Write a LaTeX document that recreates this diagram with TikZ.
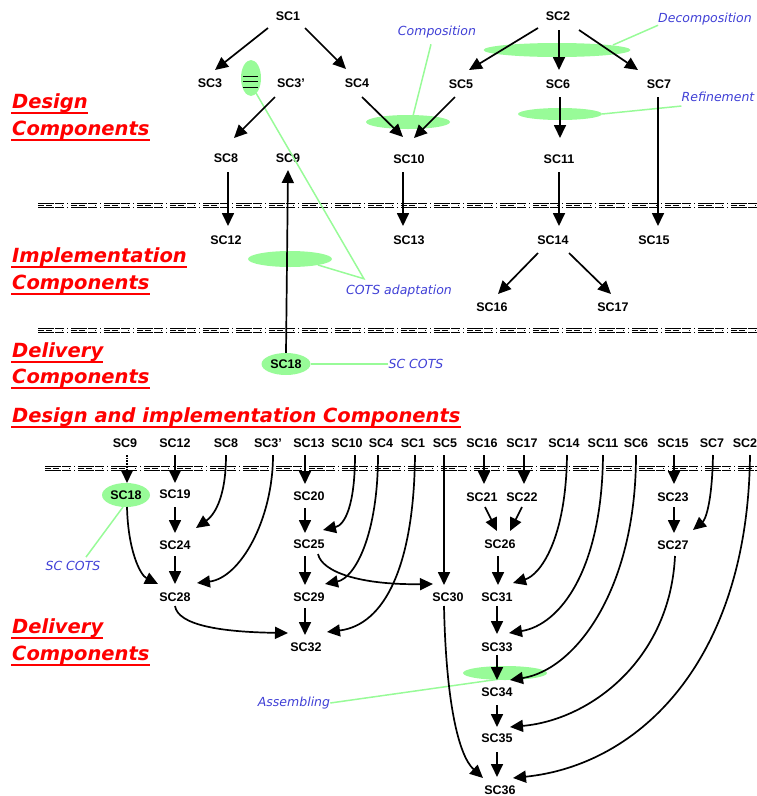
\documentclass[tikz,border=0pt]{standalone}
\usepackage{fontspec}
\usetikzlibrary{arrows.meta,calc,shapes.geometric}
\newfontfamily\nodefont{Liberation Sans}
\newfontfamily\labelfont{DejaVu Sans}
\definecolor{hilite}{RGB}{152,251,152}
\definecolor{notecol}{RGB}{64,64,214}
% layer separator: three thin rows with a dash-dot pattern
\newcommand\dashsep[2]{%
  \draw[sepline, dash pattern=on 16pt off 1pt on 9pt off 3pt on 1pt off 3pt] (#2,#1-2) -- (757,#1-2);
  \draw[sepline, dash pattern=on 6pt off 2pt on 6pt off 10pt on 1pt off 8pt] (#2,#1) -- (757,#1);
  \draw[sepline, dash pattern=on 16pt off 1pt on 9pt off 3pt on 1pt off 3pt] (#2,#1+2) -- (757,#1+2);}
% red underline below a heading node
\newcommand\hdline[1]{\draw[uline] ($(#1.base west)+(-1,5)$) -- ($(#1.base east)+(0,5)$);}
\begin{document}
\begin{tikzpicture}[x=1pt,y=-1pt,
  sc/.style={font=\nodefont\bfseries\fontsize{12.5}{14}\selectfont, inner sep=0pt},
  hd/.style={font=\labelfont\bfseries\itshape\fontsize{19.5}{22}\selectfont, text=red, inner sep=0pt, anchor=base west},
  uline/.style={red, line width=2.6pt},
  note/.style={font=\labelfont\itshape\fontsize{12.5}{14}\selectfont, text=notecol, inner sep=0pt},
  blob/.style={ellipse, fill=hilite, inner sep=0pt},
  lead/.style={hilite, line width=1.5pt},
  sepline/.style={line width=0.9pt},
  e/.style={line width=1.7pt, -{Triangle[length=13pt,width=12pt]}},
]
\useasboundingbox (0,0) rectangle (757,796);

% ---------- headings ----------
\node[hd] (h1) at (12,108) {Design};
\node[hd] (h2) at (12,135) {Components};
\node[hd] (h3) at (12,262) {Implementation};
\node[hd] (h4) at (12,289) {Components};
\node[hd] (h5) at (12,357) {Delivery};
\node[hd] (h6) at (12,383) {Components};
\node[hd] (h7) at (12,422) {Design and implementation Components};
\node[hd] (h8) at (12,633) {Delivery};
\node[hd] (h9) at (12,660) {Components};
\foreach \h in {h1,h2,h3,h4,h5,h6,h7,h8,h9} {\hdline{\h}}

% ---------- separators ----------
\dashsep{205}{38}
\dashsep{330}{38}
\dashsep{468}{45}

% ---------- highlight blobs ----------
\node[blob, minimum width=147pt, minimum height=14pt] (gDec) at (557,50) {};
\node[blob, minimum width=84pt, minimum height=14pt] (gComp) at (408,122) {};
\node[blob, minimum width=84pt, minimum height=12pt] (gRef) at (560,114) {};
\node[blob, minimum width=20pt, minimum height=36pt] (gEq) at (251,78) {};
\node[blob, minimum width=84pt, minimum height=16pt] (gCots) at (290,259) {};
\node[blob, minimum width=84pt, minimum height=14pt] (gAsm) at (505,673) {};
\draw[line width=0.8pt] (243,76) -- (258,76);
\draw[line width=1.6pt] (243,81.5) -- (258,81.5);
\draw[line width=0.8pt] (243,87) -- (258,87);

% ---------- annotation labels ----------
\node[note] (nDec) at (705,19) {Decomposition};
\node[note] (nComp) at (437,32) {Composition};
\node[note] (nRef) at (718,97) {Refinement};
\node[note] (nCots) at (399,291) {COTS adaptation};
\node[note] (nSc1) at (416,364) {SC COTS};
\node[note] (nSc2) at (73,566) {SC COTS};
\node[note] (nAsm) at (294,703) {Assembling};
\coordinate (cj) at ($(nCots.north west)+(18,-6)$);

% ---------- upper graph ----------
\node[sc] (t1) at (288,16) {SC1};
\node[sc] (t2) at (558,16) {SC2};
\node[sc] (t3) at (210,83) {SC3};
\node[sc] (t3p) at (291,83) {SC3’};
\node[sc] (t4) at (357,83) {SC4};
\node[sc] (t5) at (461,84) {SC5};
\node[sc] (t6) at (558,84) {SC6};
\node[sc] (t7) at (659,84) {SC7};
\node[sc] (t8) at (226,158) {SC8};
\node[sc] (t9) at (288,158) {SC9};
\node[sc] (t10) at (409,159) {SC10};
\node[sc] (t11) at (559,159) {SC11};
\node[sc] (t12) at (226,240) {SC12};
\node[sc] (t13) at (409,240) {SC13};
\node[sc] (t14) at (553,240) {SC14};
\node[sc] (t15) at (654,240) {SC15};
\node[sc] (t16) at (492,307) {SC16};
\node[sc] (t17) at (613,307) {SC17};
\node[blob, minimum width=49pt, minimum height=22pt] (t18) at (286,364) {};
\node[sc] at (t18) {SC18};

% leader lines
\draw[lead] ($(gDec)+(56,-5)$) -- (nDec.south west);
\draw[lead] ($(gComp)+(5,-6)$) -- ($(nComp.south)+(-6,6)$);
\draw[lead] (gRef.east) -- ($(nRef.south west)+(0,4)$);
\draw[lead] ($(gEq)+(5,15)$) -- (cj) -- ($(gCots)+(28,6)$);
\draw[lead] (t18.east) -- (nSc1.west);

\draw[e] ($(t1)+(-20,12)$) -- ($(t3)+(5,-13)$);
\draw[e] ($(t1)+(17,12)$) -- ($(t4)+(-11,-14)$);
\draw[e] ($(t3p)+(-16,14)$) -- ($(t8)+(8,-20)$);
\draw[e] ($(t4)+(5,14)$) -- ($(t10)+(-6,-22)$);
\draw[e] ($(t5)+(-6,13)$) -- ($(t10)+(5,-21)$);
\draw[e] ($(t2)+(-20,12)$) -- ($(t5)+(8,-14)$);
\draw[e] ($(t2)+(1,14)$) -- ($(t6)+(1,-14)$);
\draw[e] ($(t2)+(21,14)$) -- ($(t7)+(-21,-14)$);
\draw[e] ($(t6)+(2,13)$) -- ($(t11)+(1,-21)$);
\draw[e] ($(t8)+(2,14)$) -- ($(t12)+(2,-14)$);
\draw[e] (t18.north) -- ($(t9)+(0,12)$);
\draw[e] ($(t10)+(-6,13)$) -- ($(t13)+(-6,-14)$);
\draw[e] ($(t11)+(0,13)$) -- ($(t14)+(6,-14)$);
\draw[e] ($(t7)+(-1,13)$) -- ($(t15)+(4,-14)$);
\draw[e] ($(t14)+(-15,13)$) -- ($(t16)+(6,-13)$);
\draw[e] ($(t14)+(16,13)$) -- ($(t17)+(-2,-13)$);

% ---------- lower graph ----------
\node[sc] (b9) at (125,443) {SC9};
\node[sc] (b12) at (175,443) {SC12};
\node[sc] (b8) at (226,443) {SC8};
\node[sc] (b3p) at (268,443) {SC3’};
\node[sc] (b13) at (309,443) {SC13};
\node[sc] (b10) at (347,443) {SC10};
\node[sc] (b4) at (381,443) {SC4};
\node[sc] (b1) at (413,443) {SC1};
\node[sc] (b5) at (445,443) {SC5};
\node[sc] (b16) at (482,443) {SC16};
\node[sc] (b17) at (522,443) {SC17};
\node[sc] (b14) at (564,443) {SC14};
\node[sc] (b11) at (603,443) {SC11};
\node[sc] (b6) at (636,443) {SC6};
\node[sc] (b15) at (673,443) {SC15};
\node[sc] (b7) at (712,443) {SC7};
\node[sc] (b2) at (745,443) {SC2};
\node[blob, minimum width=48pt, minimum height=24pt] (b18) at (126,495) {};
\node[sc] at (b18) {SC18};
\node[sc] (b19) at (175,494) {SC19};
\node[sc] (b20) at (309,496) {SC20};
\node[sc] (b21) at (482,497) {SC21};
\node[sc] (b22) at (522,497) {SC22};
\node[sc] (b23) at (673,497) {SC23};
\node[sc] (b24) at (175,545) {SC24};
\node[sc] (b25) at (309,544) {SC25};
\node[sc] (b26) at (500,544) {SC26};
\node[sc] (b27) at (673,545) {SC27};
\node[sc] (b28) at (175,597) {SC28};
\node[sc] (b29) at (309,597) {SC29};
\node[sc] (b30) at (448,597) {SC30};
\node[sc] (b31) at (497,597) {SC31};
\node[sc] (b32) at (306,647) {SC32};
\node[sc] (b33) at (497,647) {SC33};
\node[sc] (b34) at (497,692) {SC34};
\node[sc] (b35) at (497,738) {SC35};
\node[sc] (b36) at (500,790) {SC36};

\draw[lead] ($(b18)+(-3,12)$) -- ($(nSc2.north)+(13,-4)$);
\draw[lead] (nAsm.east) -- ($(gAsm)+(-5,6)$);

% straight connectors
\draw[e, densely dotted] ($(b9)+(2,12)$) -- ($(b18)+(1,-12)$);
\draw[e] ($(b12)+(0,12)$) -- ($(b19)+(0,-11)$);
\draw[e] ($(b19)+(0,13)$) -- ($(b24)+(0,-12)$);
\draw[e] ($(b24)+(0,11)$) -- ($(b28)+(0,-13)$);
\draw[e] ($(b13)+(-4,12)$) -- ($(b20)+(-4,-12)$);
\draw[e] ($(b20)+(-4,12)$) -- ($(b25)+(-4,-11)$);
\draw[e] ($(b25)+(-4,12)$) -- ($(b29)+(-4,-12)$);
\draw[e] ($(b29)+(-4,11)$) -- ($(b32)+(-1,-12)$);
\draw[e] ($(b5)+(-1,12)$) -- ($(b30)+(-4,-12)$);
\draw[e] ($(b16)+(2,12)$) -- ($(b21)+(2,-13)$);
\draw[e] ($(b17)+(2,12)$) -- ($(b22)+(2,-13)$);
\draw[e] ($(b21)+(3,10)$) -- ($(b26)+(-3,-13)$);
\draw[e] ($(b22)+(0,10)$) -- ($(b26)+(10,-13)$);
\draw[e] ($(b26)+(-2,12)$) -- ($(b31)+(1,-12)$);
\draw[e] ($(b31)+(0,9)$) -- ($(b33)+(0,-13)$);
\draw[e] ($(b33)+(0,8)$) -- ($(b34)+(0,-12)$);
\draw[e] ($(b34)+(0,13)$) -- ($(b35)+(0,-11)$);
\draw[e] ($(b35)+(0,14)$) -- ($(b36)+(-3,-13)$);
\draw[e] ($(b15)+(1,12)$) -- ($(b23)+(1,-13)$);
\draw[e] ($(b23)+(1,10)$) -- ($(b27)+(1,-12)$);

% curved connectors
\draw[e] ($(b8)+(0,12)$) .. controls ($(b8)+(0,57)$) and ($(b24)+(38,-29)$) .. ($(b24)+(21,-17)$);
\draw[e] ($(b3p)+(5,12)$) .. controls ($(b3p)+(5,77)$) and ($(b28)+(65,-19)$) .. ($(b28)+(22,-14)$);
\draw[e] ($(b18)+(1,12)$) .. controls ($(b18)+(2,55)$) and ($(b28)+(-35,-22)$) .. ($(b28)+(-17,-13)$);
\draw[e] ($(b10)+(8,12)$) .. controls ($(b10)+(8,62)$) and ($(b25)+(36,-19)$) .. ($(b25)+(14,-14)$);
\draw[e] ($(b4)+(-3,12)$) .. controls ($(b4)+(-3,92)$) and ($(b29)+(46,-19)$) .. ($(b29)+(16,-13)$);
\draw[e] ($(b1)+(2,12)$) .. controls ($(b1)+(1,122)$) and ($(b32)+(79,-22)$) .. ($(b32)+(21,-15)$);
\draw[e] ($(b25)+(9,10)$) .. controls ($(b25)+(13,28)$) and ($(b30)+(-88,-12)$) .. ($(b30)+(-15,-13)$);
\draw[e] ($(b28)+(0,9)$) .. controls ($(b28)+(3,28)$) and ($(b32)+(-86,-15)$) .. ($(b32)+(-18,-14)$);
\draw[e] ($(b14)+(3,12)$) .. controls ($(b14)+(2,97)$) and ($(b31)+(43,-22)$) .. ($(b31)+(16,-14)$);
\draw[e] ($(b11)+(0,12)$) .. controls ($(b11)+(-1,127)$) and ($(b33)+(63,-22)$) .. ($(b33)+(12,-14)$);
\draw[e] ($(b6)+(0,12)$) .. controls ($(b6)+(0,147)$) and ($(b34)+(78,-22)$) .. ($(b34)+(13,-12)$);
\draw[e] ($(b27)+(2,11)$) .. controls ($(b27)+(-3,115)$) and ($(b35)+(93,-18)$) .. ($(b35)+(13,-11)$);
\draw[e] ($(b2)+(5,12)$) .. controls ($(b2)+(3,217)$) and ($(b36)+(140,-25)$) .. ($(b36)+(13,-12)$);
\draw[e] ($(b30)+(-4,9)$) .. controls ($(b30)+(-2,103)$) and ($(b36)+(-42,-35)$) .. ($(b36)+(-17,-12)$);
\draw[e] ($(b7)+(1,12)$) .. controls ($(b7)+(0,62)$) and ($(b27)+(32,-25)$) .. ($(b27)+(20,-15)$);
\end{tikzpicture}
\end{document}
